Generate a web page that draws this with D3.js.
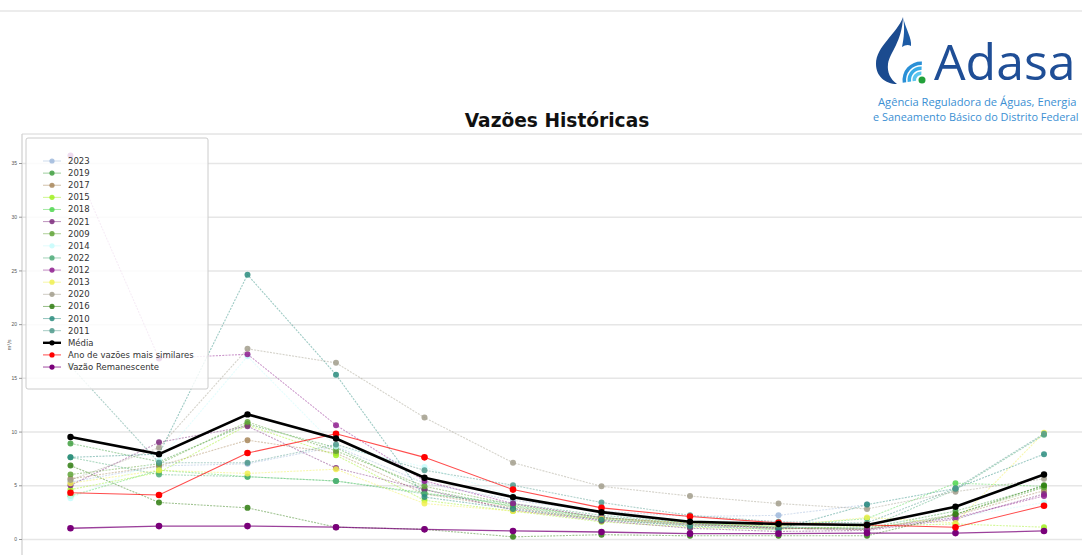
<!DOCTYPE html>
<html>
<head>
<meta charset="utf-8">
<script src="https://cdn.jsdelivr.net/npm/d3@7"></script>
<style>
  body { margin: 0; background: #fff; }
  svg { display: block; font-family: "DejaVu Sans", sans-serif; }
</style>
</head>
<body>
<script>
// months of the year (x categories)
const months = ["Jan", "Fev", "Mar", "Abr", "Mai", "Jun", "Jul", "Ago", "Set", "Out", "Nov", "Dez"];

// yearly flows (m³/s)
const v2023 = [5.3, 6.8, 7.0, 8.6, 5.2, 3.6, 2.6, 2.1, 2.2, 3.2, null, null];
const v2019 = [8.9, 7.2, 10.7, 8.5, 4.6, 3.0, 1.9, 1.3, 1.1, 1.0, 2.6, 4.9];
const v2017 = [5.6, 6.8, 9.2, 8.0, 4.2, 2.9, 1.8, 1.3, 1.0, 0.9, 2.2, 4.5];
const v2015 = [4.6, 6.2, 10.6, 7.8, 3.6, 2.6, 1.6, 1.1, 0.9, 1.2, 1.4, 1.1];
const v2018 = [4.0, 6.4, 5.8, 5.4, 4.3, 3.1, 2.0, 1.4, 1.2, 1.9, 5.2, 4.9];
const v2021 = [5.0, 9.0, 10.5, 6.6, 4.6, 2.7, 1.7, 1.0, 0.7, 0.8, 1.85, 4.2];
const v2009 = [6.0, 7.0, 10.9, 8.2, 4.9, 3.2, 2.0, 1.5, 1.0, 0.9, 2.3, 4.8];
const v2014 = [3.8, 7.3, 17.0, 8.6, 6.7, 4.0, 2.4, 1.7, 1.6, 1.4, 2.0, 3.4];
const v2022 = [7.6, 6.0, 5.8, 5.4, 4.2, 3.3, 2.2, 1.5, 1.1, 1.0, 4.6, 9.7];
const v2012 = [35.7, 16.8, 17.2, 10.6, 5.4, 3.3, 2.0, 1.4, 1.0, 0.9, 2.0, 4.0];
const v2013 = [5.2, 6.4, 6.1, 6.5, 3.3, 2.6, 1.9, 1.5, 1.2, 2.0, 1.5, 9.9];
const v2020 = [5.5, 8.5, 17.7, 16.4, 11.3, 7.1, 4.9, 4.0, 3.3, 2.8, 4.4, 5.6];
const v2016 = [6.85, 3.4, 2.9, 1.1, 0.9, 0.2, 0.4, 0.3, 0.3, 0.3, 2.3, 5.0];
const v2010 = [7.6, 7.9, 24.6, 15.3, 3.9, 2.8, 1.8, 1.2, 0.9, 3.2, 4.7, 7.9];
const v2011 = [16.1, 7.1, 7.1, 8.8, 6.4, 5.0, 3.4, 2.2, 1.6, 1.5, 4.7, 9.8];

const media = [9.5, 7.9, 11.6, 9.35, 5.7, 3.9, 2.5, 1.6, 1.4, 1.3, 3.0, 6.0];
const similar = [4.3, 4.1, 8.0, 9.8, 7.6, 4.6, 2.9, 2.1, 1.5, 1.3, 1.1, 3.1];
const remanescente = [1.0, 1.2, 1.2, 1.1, 0.9, 0.75, 0.65, 0.5, 0.5, 0.55, 0.55, 0.75];

const yearLabels = ["2023", "2019", "2017", "2015", "2018", "2021", "2009", "2014", "2022", "2012", "2013", "2020", "2016", "2010", "2011"];
const yearValues = [v2023, v2019, v2017, v2015, v2018, v2021, v2009, v2014, v2022, v2012, v2013, v2020, v2016, v2010, v2011];
const yearColors = ["#9fb9dc", "#3f9f3f", "#a8875a", "#a0f020", "#4fd64f", "#7d2a7d", "#5fa336", "#c6fbfb",
                    "#4caa78", "#8e1c8e", "#f0f050", "#a29d8c", "#2f7d10", "#2a8c7e", "#4f9a8c"];

const yTicks = [0, 5, 10, 15, 20, 25, 30, 35];

const W = 1082, H = 555;

const svg = d3.select("body").append("svg")
  .attr("width", W)
  .attr("height", H);

// thin band at the top of the screenshot
svg.append("line")
  .attr("x1", 0).attr("x2", W)
  .attr("y1", 11).attr("y2", 11)
  .style("stroke", "#ececec")
  .style("stroke-width", 2);

// ---- logo
const logo = svg.append("g");
logo.append("path")
  .attr("d", "M903,17 C897,34 876,46 876,64 C876,76 885,84 897,84 C890,79 887,72 888,64 C890,52 902,42 903,17 Z")
  .style("fill", "#1b4b8f");
logo.append("path")
  .attr("d", "M903,17 C906,30 912,38 911,46 C908,44 905,45 902,47 C904,38 905,28 903,17 Z")
  .style("fill", "#1d5ba5");
const arcC = [921, 80];
[[7, "#5cc6ef"], [12, "#38ace6"], [17, "#2a8fd6"]].forEach(([r, c]) => {
  const a = d3.arc().innerRadius(r - 2).outerRadius(r + 1.5)
    .startAngle(-Math.PI / 2 - 0.15).endAngle(0.05);
  logo.append("path")
    .attr("transform", `translate(${arcC[0]},${arcC[1]})`)
    .attr("d", a())
    .style("fill", c);
});
logo.append("circle")
  .attr("cx", arcC[0] + 1).attr("cy", arcC[1])
  .attr("r", 3.5)
  .style("fill", "#23a13a");
logo.append("text")
  .attr("x", 934).attr("y", 80)
  .style("font-family", "'Open Sans', 'Noto Sans', sans-serif")
  .style("font-size", "50px")
  .style("fill", "#1f4e96")
  .text("Adasa");
logo.append("text")
  .attr("x", 878).attr("y", 106)
  .style("font-family", "'Open Sans', 'Noto Sans', sans-serif")
  .style("font-size", "11.2px")
  .style("fill", "#3b8fd3")
  .text("Agência Reguladora de Águas, Energia");
logo.append("text")
  .attr("x", 873).attr("y", 121)
  .style("font-family", "'Open Sans', 'Noto Sans', sans-serif")
  .style("font-size", "10.9px")
  .style("fill", "#3b8fd3")
  .text("e Saneamento Básico do Distrito Federal");

// ---- title
svg.append("text")
  .attr("x", 557).attr("y", 127)
  .attr("text-anchor", "middle")
  .style("font-size", "18.6px")
  .style("font-weight", "bold")
  .style("fill", "#111")
  .text("Vazões Históricas");

// ---- scales
const x = d3.scalePoint()
  .domain(months)
  .range([70.5, 1044]);

const y = d3.scaleLinear()
  .domain([0, 35])
  .range([539, 163]);

const plotLeft = 22, plotTop = 134;

// grid
svg.append("g")
  .attr("transform", `translate(${plotLeft},0)`)
  .call(d3.axisLeft(y).tickValues(yTicks).tickSize(-(W - plotLeft)).tickFormat(""))
  .call(g => g.select(".domain").remove())
  .call(g => g.selectAll("line").style("stroke", "#e6e6e6").style("stroke-width", 1.5));

// frame
svg.append("line")
  .attr("x1", plotLeft).attr("x2", W)
  .attr("y1", plotTop).attr("y2", plotTop)
  .style("stroke", "#d6d6d6");
svg.append("line")
  .attr("x1", plotLeft).attr("x2", plotLeft)
  .attr("y1", plotTop).attr("y2", H)
  .style("stroke", "#cfcfcf")
  .style("stroke-width", 1.2);

// y axis
const yAxis = svg.append("g")
  .attr("transform", `translate(${plotLeft},0)`)
  .call(d3.axisLeft(y).tickValues(yTicks).tickSize(3).tickPadding(2));
yAxis.select(".domain").remove();
yAxis.selectAll("line").style("stroke", "#999");
yAxis.selectAll("text").style("font-size", "5px").style("fill", "#555");

svg.append("text")
  .attr("transform", "translate(11,345) rotate(-90)")
  .attr("text-anchor", "middle")
  .style("font-size", "5px")
  .style("fill", "#555")
  .text("m³/s");

const line = d3.line()
  .defined(d => d != null)
  .x((d, i) => x(months[i]))
  .y(d => y(d));

// ---- year series
yearValues.forEach((vals, k) => {
  const g = svg.append("g");
  g.append("path")
    .datum(vals)
    .attr("d", line)
    .style("fill", "none")
    .style("stroke", yearColors[k])
    .style("stroke-width", 1.1)
    .style("stroke-dasharray", "2,1.2")
    .style("opacity", 0.45);
  g.selectAll("circle")
    .data(vals.map((v, i) => ({ v, i })).filter(d => d.v != null))
    .enter()
    .append("circle")
    .attr("cx", d => x(months[d.i]))
    .attr("cy", d => y(d.v))
    .attr("r", 3)
    .style("fill", yearColors[k])
    .style("opacity", 0.85);
});

// main series
function drawSeries(vals, color, width, r, lineOpacity) {
  const g = svg.append("g");
  g.append("path")
    .datum(vals)
    .attr("d", line)
    .style("fill", "none")
    .style("stroke", color)
    .style("stroke-width", width)
    .style("opacity", lineOpacity);
  g.selectAll("circle")
    .data(vals)
    .enter()
    .append("circle")
    .attr("cx", (d, i) => x(months[i]))
    .attr("cy", d => y(d))
    .attr("r", r)
    .style("fill", color);
}

drawSeries(remanescente, "#7a007a", 1.3, 3.3, 0.75);
drawSeries(similar, "#ff0000", 1.1, 3.3, 0.7);
drawSeries(media, "#000000", 2.6, 3.2, 1);

// ---- legend
const legend = svg.append("g");
legend.append("rect")
  .attr("x", 26).attr("y", 138)
  .attr("width", 182).attr("height", 251)
  .attr("rx", 2)
  .style("fill", "#fff")
  .style("fill-opacity", 0.82)
  .style("stroke", "#cccccc")
  .style("stroke-width", 1);

const legendItems = yearLabels.map((lab, k) => ({ lab, color: yearColors[k], kind: "year" }))
  .concat([
    { lab: "Média", color: "#000000", kind: "media" },
    { lab: "Ano de vazões mais similares", color: "#ff0000", kind: "main" },
    { lab: "Vazão Remanescente", color: "#7a007a", kind: "main" }
  ]);

const rowY = i => 161 + i * 12.12;

legendItems.forEach((d, i) => {
  const ly = rowY(i);
  legend.append("line")
    .attr("x1", 43).attr("x2", 61)
    .attr("y1", ly).attr("y2", ly)
    .style("stroke", d.color)
    .style("stroke-width", d.kind === "media" ? 2.4 : 1)
    .style("opacity", d.kind === "year" ? 0.5 : (d.kind === "media" ? 1 : 0.7));
  legend.append("circle")
    .attr("cx", 52).attr("cy", ly)
    .attr("r", 2.6)
    .style("fill", d.color)
    .style("opacity", d.kind === "year" ? 0.85 : 1);
  legend.append("text")
    .attr("x", 68).attr("y", ly + 3)
    .style("font-size", "8.5px")
    .style("fill", "#333")
    .text(d.lab);
});
</script>
</body>
</html>
